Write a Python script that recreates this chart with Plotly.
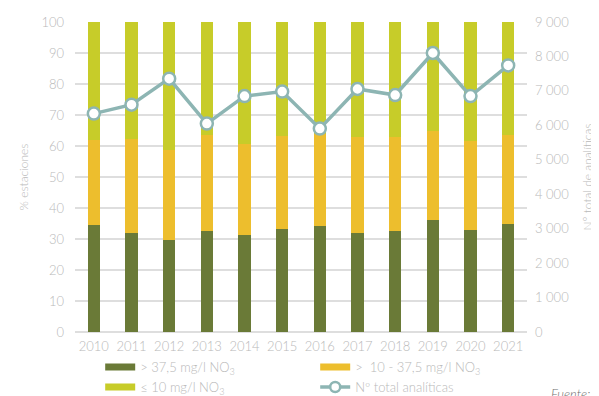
import plotly.graph_objects as go

years = ["2010", "2011", "2012", "2013", "2014", "2015", "2016", "2017", "2018", "2019", "2020", "2021"]
# percentages of stations per class (stacked to 100)
high = [34.5, 32.0, 29.8, 32.7, 31.2, 33.3, 34.1, 32.0, 32.7, 36.1, 33.0, 35.0]      # > 37,5 mg/l
mid_top = [62.0, 62.4, 58.6, 63.5, 60.5, 63.2, 63.8, 62.9, 62.8, 64.9, 61.7, 63.7]   # cumulative top of middle class
mid = [round(t - h, 1) for t, h in zip(mid_top, high)]                                 # > 10 - 37,5 mg/l
low = [round(100 - t, 1) for t in mid_top]                                              # <= 10 mg/l
analiticas = [6340, 6600, 7355, 6050, 6850, 6980, 5905, 7055, 6880, 8100, 6850, 7740]

C_HIGH = "#6a7a37"
C_MID = "#edbe2d"
C_LOW = "#c7cc29"
C_LINE = "#8db5b3"
GREY = "#b9b9b9"
FONT = "Lato, 'Open Sans', sans-serif"

fig = go.Figure()
for vals, col in [(high, C_HIGH), (mid, C_MID), (low, C_LOW)]:
    fig.add_trace(go.Bar(x=years, y=vals, marker=dict(color=col, line=dict(width=0)),
                         width=0.32, showlegend=False, yaxis="y"))

fig.add_trace(go.Scatter(x=years, y=analiticas, yaxis="y2", mode="lines+markers",
                         line=dict(color=C_LINE, width=3.5),
                         marker=dict(size=12, color="white", line=dict(color=C_LINE, width=2.5)),
                         showlegend=False))

# legend entries (wide swatches)
legend_items = [("> 37,5 mg/l NO<sub>3</sub>", C_HIGH, "lines"),
                (">  10 - 37,5 mg/l NO<sub>3</sub>", C_MID, "lines"),
                ("≤ 10 mg/l NO<sub>3</sub>", C_LOW, "lines"),
                ("Nº total analíticas", C_LINE, "lines+markers")]
for name, col, mode in legend_items:
    if mode == "lines":
        fig.add_trace(go.Scatter(x=[None], y=[None], mode="lines", name=name,
                                 line=dict(color=col, width=7), yaxis="y"))
    else:
        fig.add_trace(go.Scatter(x=[None], y=[None], mode="lines+markers", name=name,
                                 line=dict(color=col, width=3.5),
                                 marker=dict(size=10, color="white", line=dict(color=col, width=2.5)),
                                 yaxis="y2"))

fig.update_layout(
    width=591, height=388,
    margin=dict(l=67, r=72, t=14, b=64, autoexpand=False),
    paper_bgcolor="white", plot_bgcolor="white",
    barmode="stack",
    separators=", ",
    font=dict(family=FONT, color=GREY, size=13, weight=300),
    xaxis=dict(type="category", showgrid=False, showline=False, ticks="",
               tickfont=dict(size=13, color=GREY), range=[-0.5, 11.5], ticklabelstandoff=5),
    yaxis=dict(range=[0, 100], dtick=10, showgrid=True, gridcolor="#dedede", gridwidth=2,
               zeroline=True, zerolinecolor="#dedede", zerolinewidth=2,
               ticks="", tickfont=dict(size=13, color=GREY), ticklabelstandoff=10,
               title=dict(text="% estaciones", font=dict(size=12, color=GREY), standoff=10)),
    yaxis2=dict(range=[0, 9000], dtick=1000, overlaying="y", side="right", showgrid=False,
                zeroline=False, tickformat=",d", ticks="", tickfont=dict(size=13, color=GREY),
                ticklabelstandoff=7,
                title=dict(text="Nº total de analíticas", font=dict(size=12, color=GREY), standoff=15)),
    legend=dict(orientation="h", xref="container", yref="container", x=0.156, y=0.113,
                xanchor="left", yanchor="top", entrywidth=170, entrywidthmode="pixels",
                font=dict(size=13, color=GREY), traceorder="normal", itemwidth=30,
                bgcolor="rgba(0,0,0,0)"),
    annotations=[dict(text="<i>Fuente:</i>", xref="paper", yref="paper", x=1.048, y=-0.168,
                      xanchor="left", yanchor="top", showarrow=False,
                      font=dict(size=13, color="#6f6f6f"))],
)

fig.write_html("out.html")
